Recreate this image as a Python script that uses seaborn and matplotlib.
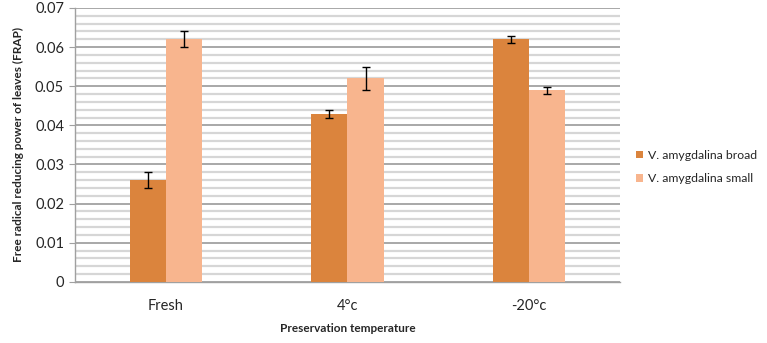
import matplotlib
matplotlib.use("Agg")
import matplotlib.pyplot as plt
import seaborn as sns
import numpy as np
import pandas as pd
from matplotlib.ticker import MultipleLocator, FuncFormatter

# данные
temperatures = ["Fresh", "4°c", "-20°c"]
series_names = ["V. amygdalina broad", "V. amygdalina small"]
broad_vals = [0.026, 0.043, 0.062]
small_vals = [0.062, 0.052, 0.049]
broad_err = [0.002, 0.001, 0.0009]
small_err = [0.002, 0.003, 0.0009]
colors = ["#DB843D", "#F8B58E"]

df = pd.DataFrame({
    "temp": temperatures * 2,
    "series": [series_names[0]] * 3 + [series_names[1]] * 3,
    "value": broad_vals + small_vals,
})
errs = {series_names[0]: broad_err, series_names[1]: small_err}

sns.set_style("white")
plt.rcParams["font.family"] = ["Lato", "DejaVu Sans"]

fig = plt.figure(figsize=(7.67, 3.43), dpi=100)
ax = fig.add_axes([0.098, 0.178, 0.71, 0.799])

sns.barplot(data=df, x="temp", y="value", hue="series", order=temperatures,
            hue_order=series_names, palette=colors, width=0.4, saturation=1,
            errorbar=None, linewidth=0, ax=ax, zorder=3)

# планки погрешностей
for cont, name in zip(ax.containers, series_names):
    xs = [b.get_x() + b.get_width() / 2 for b in cont]
    hs = [b.get_height() for b in cont]
    ax.errorbar(xs, hs, yerr=errs[name], fmt="none", ecolor="black",
                elinewidth=1, capsize=3, capthick=1, zorder=4)

ax.set_ylim(0, 0.07)
ax.set_xlim(-0.5, 2.5)
ax.yaxis.set_major_locator(MultipleLocator(0.01))
ax.yaxis.set_major_formatter(FuncFormatter(lambda v, p: "0" if abs(v) < 1e-9 else f"{v:.2f}"))

# вспомогательная сетка (каждые 0.002)
minor = [v for v in np.arange(1, 35) * 0.002 if round(v / 0.002) % 5 != 0]
ax.hlines(minor, -0.5, 2.5, colors="#D6D6D6", linewidth=1.6, zorder=1)
ax.yaxis.grid(True, which="major", color="#9A9A9A", linewidth=1.2, zorder=2)
ax.set_axisbelow(True)

for s in ["top", "right"]:
    ax.spines[s].set_visible(False)
for s in ["left", "bottom"]:
    ax.spines[s].set_color("#A0A0A0")
    ax.spines[s].set_linewidth(1)

ax.tick_params(axis="y", which="major", left=True, length=4, color="#A0A0A0",
               labelsize=10.5, pad=4)
ax.tick_params(axis="x", which="both", bottom=False, labelsize=10.5, pad=9)

ax.set_xlabel("Preservation temperature", fontsize=8.5, fontweight="bold", labelpad=7)
ax.set_ylabel("Free radical reducing power of leaves (FRAP)", fontsize=8.5,
              fontweight="bold", labelpad=8)

ax.legend(loc="center left", bbox_to_anchor=(1.02, 0.42), frameon=False,
          fontsize=8.8, handlelength=0.6, handleheight=0.6, handletextpad=0.4,
          labelspacing=1.0, borderaxespad=0)

fig.savefig("out.png", dpi=100)
